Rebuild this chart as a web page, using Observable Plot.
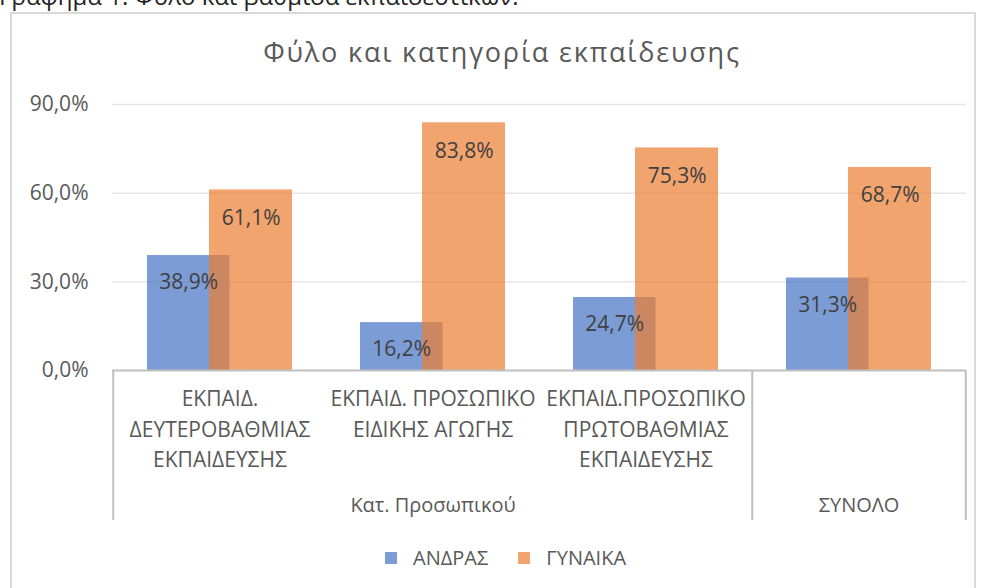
<!DOCTYPE html>
<html>
<head>
<meta charset="utf-8">
<script src="https://cdn.jsdelivr.net/npm/d3@7"></script>
<script src="https://cdn.jsdelivr.net/npm/@observablehq/plot@0.6"></script>
<style>
  html, body { margin: 0; padding: 0; background: #fff; overflow: hidden; }
  body { width: 981px; height: 588px; position: relative; font-family: "Open Sans", sans-serif; }
  #cap { position: absolute; left: -1px; top: -16px; font-size: 24px; line-height: 24px; color: #262626; white-space: nowrap; }
  #frame { position: absolute; left: 10px; top: 12px; width: 966px; height: 600px; border: 2px solid #d9d9d9; box-sizing: border-box; }
  #title { position: absolute; left: 502px; top: 33px; transform: translateX(-50%); font-size: 27px; letter-spacing: 1.8px; color: #595959; white-space: nowrap; }
  #chart { position: absolute; left: 0; top: 80px; }
  #legend { position: absolute; left: 385px; top: 544px; display: flex; align-items: center; font-size: 20px; color: #595959; }
  #legend .sw { width: 12px; height: 12px; display: inline-block; margin-right: 16px; }
  #legend .item { display: flex; align-items: center; margin-right: 30px; }
</style>
</head>
<body>
<div id="cap">Γράφημα 1. Φύλο και βαθμίδα εκπαιδευτικών:</div>
<div id="frame"></div>
<div id="title">Φύλο και κατηγορία εκπαίδευσης</div>
<div id="chart"></div>
<div id="legend"></div>
<script>
// ---- data ----
const categories = ["c1", "c2", "c3", "c4"];
const categoryLabels = [
  "ΕΚΠΑΙΔ.\nΔΕΥΤΕΡΟΒΑΘΜΙΑΣ\nΕΚΠΑΙΔΕΥΣΗΣ",
  "ΕΚΠΑΙΔ. ΠΡΟΣΩΠΙΚΟ\nΕΙΔΙΚΗΣ ΑΓΩΓΗΣ",
  "ΕΚΠΑΙΔ.ΠΡΟΣΩΠΙΚΟ\nΠΡΩΤΟΒΑΘΜΙΑΣ\nΕΚΠΑΙΔΕΥΣΗΣ",
  ""
];
const groupLabels = ["Κατ. Προσωπικού", "ΣΥΝΟΛΟ"];
const groupAnchors = ["c2", "c4"];
const seriesNames = ["ΑΝΔΡΑΣ", "ΓΥΝΑΙΚΑ"];
const men = [38.9, 16.2, 24.7, 31.3];
const women = [61.1, 83.8, 75.3, 68.7];
const yTicks = [0, 30, 60, 90];

const colors = ["#4472C4", "#ED7D31"];
const fmt = v => v.toFixed(1).replace(".", ",") + "%";

const menRows = categories.map((c, i) => ({cat: c, value: men[i]}));
const womenRows = categories.map((c, i) => ({cat: c, value: women[i]}));
const catRows = categories.map((c, i) => ({cat: c, label: categoryLabels[i]}));
const grpRows = groupLabels.map((g, i) => ({cat: groupAnchors[i], label: g}));

const W = 981, ML = 112, MR = 15;
const half = (W - ML - MR) / categories.length / 2;

const chart = Plot.plot({
  width: W,
  height: 450,
  marginLeft: ML,
  marginRight: MR,
  marginTop: 24,
  marginBottom: 160,
  style: {fontFamily: "Open Sans, sans-serif", color: "#595959", background: "transparent"},
  x: {type: "band", domain: categories, padding: 0, axis: null},
  y: {domain: [0, 90], axis: null},
  marks: [
    Plot.ruleY(yTicks.slice(1), {stroke: "#e6e6e6", strokeWidth: 1.5}),
    Plot.axisY(yTicks, {tickSize: 0, tickPadding: 24, fontSize: 21, tickFormat: fmt, label: null, fill: "#595959"}),
    Plot.barY(menRows, {x: "cat", y: "value", fill: colors[0], fillOpacity: 0.7, insetLeft: 34, insetRight: 96.5}),
    Plot.barY(womenRows, {x: "cat", y: "value", fill: colors[1], fillOpacity: 0.7, insetLeft: 96, insetRight: 34}),
    Plot.text(menRows, {x: "cat", y: "value", text: d => fmt(d.value), dx: -31.25, dy: 27, fontSize: 21, fill: "#404040"}),
    Plot.text(womenRows, {x: "cat", y: "value", text: d => fmt(d.value), dx: 31.25, dy: 28, fontSize: 21, fill: "#404040"}),
    Plot.ruleY([0], {stroke: "#bfbfbf", strokeWidth: 2}),
    Plot.ruleX([categories[0], categories[3]], {y1: 0, y2: 0, insetBottom: -150, dx: -half, stroke: "#bfbfbf", strokeWidth: 2}),
    Plot.ruleX([categories[3]], {y1: 0, y2: 0, insetBottom: -150, dx: half, stroke: "#bfbfbf", strokeWidth: 2}),
    Plot.text(catRows, {x: "cat", text: "label", frameAnchor: "bottom", lineAnchor: "top", dy: 14, lineHeight: 1.45, fontSize: 21, fill: "#595959"}),
    Plot.text(grpRows, {x: "cat", text: "label", frameAnchor: "bottom", lineAnchor: "middle", dy: 135, fontSize: 20, fill: "#595959"})
  ]
});
document.getElementById("chart").appendChild(chart);

const legend = document.getElementById("legend");
seriesNames.forEach((name, i) => {
  const item = document.createElement("div");
  item.className = "item";
  const sw = document.createElement("span");
  sw.className = "sw";
  sw.style.background = colors[i];
  sw.style.opacity = 0.7;
  const t = document.createElement("span");
  t.textContent = name;
  item.appendChild(sw);
  item.appendChild(t);
  legend.appendChild(item);
});
</script>
</body>
</html>
